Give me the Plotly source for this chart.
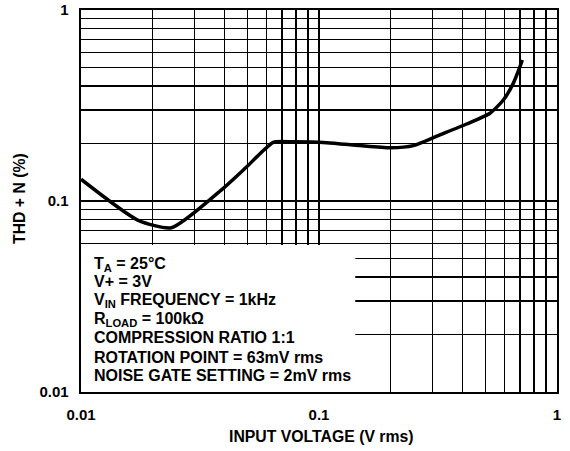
import plotly.graph_objects as go

# ---- data ----
input_voltage = [0.01, 0.0173, 0.024, 0.0396, 0.0497, 0.0643, 0.0775, 0.1077,
                 0.1486, 0.2, 0.249, 0.322, 0.417, 0.523, 0.595, 0.655, 0.699, 0.715]
thd_n = [0.130, 0.0795, 0.0725, 0.1165, 0.151, 0.203, 0.204, 0.202,
         0.195, 0.19, 0.195, 0.222, 0.253, 0.288, 0.338, 0.413, 0.505, 0.547]

x_tick_labels = ["0.01", "0.1", "1"]
y_tick_labels = ["0.01", "0.1", "1"]
decades = [0.01, 0.1, 1]

conditions = [
    "T<sub>A</sub> = 25°C",
    "V+ = 3V",
    "V<sub>IN</sub> FREQUENCY = 1kHz",
    "R<sub>LOAD</sub> = 100kΩ",
    "COMPRESSION RATIO 1:1",
    "ROTATION POINT = 63mV rms",
    "NOISE GATE SETTING = 2mV rms",
]

FONT = "Liberation Sans, Arial, Helvetica, sans-serif"

# grid values (decades plus 2..9 minors)
grid_vals = []
grid_text = []
for d in [0.01, 0.1]:
    for m in range(1, 10):
        v = round(d * m, 4)
        grid_vals.append(v)
        grid_text.append("")
grid_vals.append(1)
grid_text.append("")
xt = list(grid_text)
yt = list(grid_text)
for lab_x, lab_y, d in zip(x_tick_labels, y_tick_labels, decades):
    xt[grid_vals.index(d)] = lab_x
    yt[grid_vals.index(d)] = lab_y

fig = go.Figure()
fig.add_trace(go.Scatter(
    x=input_voltage, y=thd_n, mode="lines",
    line=dict(color="black", width=3.5, shape="spline", smoothing=0.6),
    hoverinfo="skip", showlegend=False,
))

axis_common = dict(
    type="log", range=[-2, 0], showgrid=True, gridcolor="black", gridwidth=1.4,
    showline=True, linecolor="black", linewidth=2.4, mirror=True, ticks="",
    zeroline=False, tickmode="array", tickvals=grid_vals, automargin=False,
    tickfont=dict(family=FONT, size=15, color="black", weight="bold"),
)
fig.update_xaxes(**axis_common, ticktext=xt, ticklabelstandoff=8)
fig.update_yaxes(**axis_common, ticktext=yt, ticklabelstandoff=7)

# white box behind condition text
fig.add_shape(type="rect", xref="x", yref="y", x0=0.01, x1=0.142, y0=0.01, y1=0.0588,
              fillcolor="white", line=dict(width=0), layer="between")

line_y_px = [264.3, 281.6, 300.3, 319.3, 337.6, 357.0, 375.0]
for txt, py in zip(conditions, line_y_px):
    fig.add_annotation(
        text=txt, xref="paper", yref="paper", x=(92.3 - 81) / 476, y=(392 - py) / 382,
        xanchor="left", yanchor="middle", showarrow=False,
        font=dict(family=FONT, size=16, color="black", weight="bold"),
    )

fig.add_annotation(text="INPUT VOLTAGE (V rms)", xref="paper", yref="paper",
                   x=(321.5 - 81) / 476, y=(392 - 436) / 382, xanchor="center", yanchor="middle",
                   showarrow=False, font=dict(family=FONT, size=15.8, color="black", weight="bold"))
fig.add_annotation(text="THD + N (%)", xref="paper", yref="paper", textangle=-90,
                   x=(19 - 81) / 476, y=(392 - 198) / 382, xanchor="center", yanchor="middle",
                   showarrow=False, font=dict(family=FONT, size=15.8, color="black", weight="bold"))

fig.update_layout(
    width=570, height=451, margin=dict(l=81, r=13, t=10, b=59),
    paper_bgcolor="white", plot_bgcolor="white", showlegend=False,
)
fig.write_html("out.html", config={"displayModeBar": False, "staticPlot": True},
               post_script="document.body.style.margin='0';")
